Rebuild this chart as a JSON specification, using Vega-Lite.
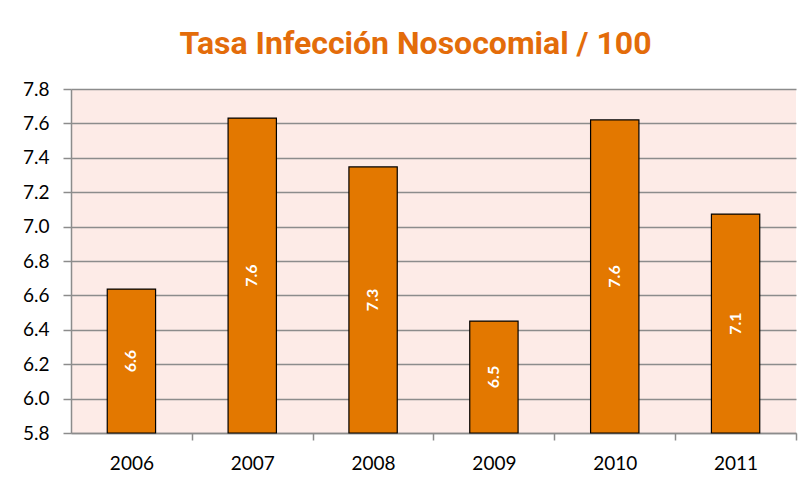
{
  "$schema": "https://vega.github.io/schema/vega-lite/v6.json",
  "width": 725,
  "height": 344,
  "autosize": {"type": "none"},
  "padding": {"left": 71, "top": 89, "right": 10, "bottom": 55},
  "background": "white",
  "title": {
    "text": "Tasa Infección Nosocomial / 100",
    "font": "Roboto, sans-serif",
    "fontSize": 32,
    "fontWeight": "bold",
    "color": "#E36C0A",
    "anchor": "middle",
    "dx": -18,
    "offset": 19
  },
  "data": {
    "values": [
      {"year": "2006", "rate": 6.637},
      {"year": "2007", "rate": 7.631},
      {"year": "2008", "rate": 7.347},
      {"year": "2009", "rate": 6.451},
      {"year": "2010", "rate": 7.62},
      {"year": "2011", "rate": 7.073}
    ]
  },
  "config": {
    "view": {"fill": "#FDEBE7", "stroke": null},
    "axis": {
      "labelFont": "Lato, Open Sans, sans-serif",
      "labelFontSize": 19,
      "labelColor": "#000000",
      "domainColor": "#8C8C8C",
      "domainWidth": 1.5,
      "tickColor": "#8C8C8C",
      "tickWidth": 1.5,
      "gridColor": "#8C8C8C",
      "gridWidth": 1.5,
      "title": null
    }
  },
  "encoding": {
    "x": {
      "field": "year",
      "type": "nominal",
      "scale": {"paddingInner": 0.6, "paddingOuter": 0.3},
      "axis": {
        "labelAngle": 0,
        "tickOffset": 60.4,
        "labelOffset": -60.4,
        "tickSize": 7,
        "labelPadding": 14,
        "grid": false
      }
    },
    "y": {
      "type": "quantitative",
      "scale": {"domain": [5.8, 7.8], "zero": false, "nice": false},
      "axis": {
        "values": [5.8, 6.0, 6.2, 6.4, 6.6, 6.8, 7.0, 7.2, 7.4, 7.6, 7.8],
        "format": ".1f",
        "labelOverlap": false,
        "tickSize": 8,
        "labelPadding": 14,
        "grid": true
      }
    }
  },
  "layer": [
    {
      "mark": {"type": "bar", "color": "#E37800", "stroke": "#000000", "strokeWidth": 1.2},
      "encoding": {
        "y": {"field": "rate"},
        "y2": {"datum": 5.8}
      }
    },
    {
      "transform": [{"calculate": "(datum.rate + 5.8) / 2", "as": "mid"}],
      "mark": {
        "type": "text",
        "angle": 270,
        "color": "white",
        "font": "Lato, Open Sans, sans-serif",
        "fontWeight": "bold",
        "fontSize": 16,
        "align": "center",
        "baseline": "middle"
      },
      "encoding": {
        "y": {"field": "mid"},
        "text": {"field": "rate", "type": "quantitative", "format": ".1f"}
      }
    }
  ]
}
